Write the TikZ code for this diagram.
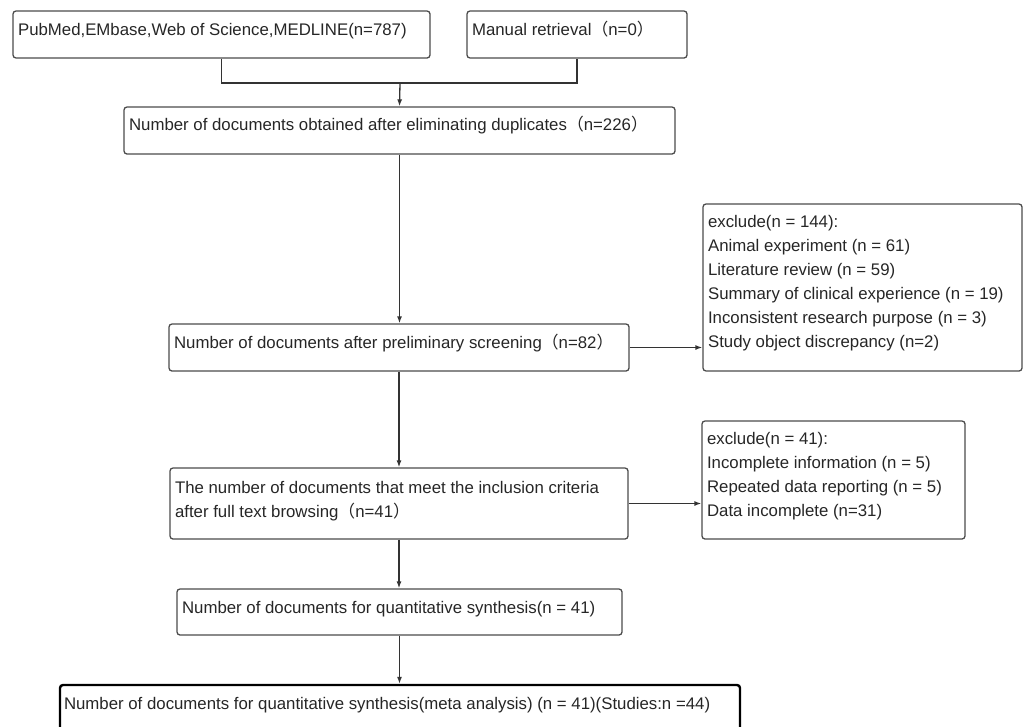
\documentclass[tikz,border=0pt]{standalone}
\usepackage{fontspec}
\setmainfont{Liberation Sans}
\newfontfamily\cjk{Noto Sans CJK SC}
\usetikzlibrary{arrows.meta}
\def\fwparen#1{{\cjk （}#1{\cjk ）}}

\begin{document}
\begin{tikzpicture}[x=1pt, y=-1pt,
	box/.style={draw=black!70, line width=1.3pt, rounded corners=3pt, inner sep=0pt},
	txt/.style={anchor=base west, inner sep=0pt, align=left, text=black!85, font=\fontsize{16.8}{24}\selectfont},
	arr/.style={draw=black!80, line width=1.3pt, -{Latex[length=7pt,width=5pt]}}]
			%%%%% START %%%%%
			
			\useasboundingbox (0, 0) rectangle (1027, 726);
			\clip (0, 0) rectangle (1027, 726);
			
			% base of a node of several lines is its last line
			\node[box, minimum width=417pt, minimum height=47pt] (search) at (221.5, 34.5) {};
			\node[txt] (searchtxt) at ([shift={(5.5, 25)}]search.north west) {PubMed,EMbase,Web of Science,MEDLINE(n=787)};
			
			\node[box, minimum width=220pt, minimum height=47pt] (manual) at (577, 34.5) {};
			\node[txt] (manualtxt) at ([shift={(5.5, 25)}]manual.north west) {Manual retrieval\fwparen{n=0}};
			
			\node[box, minimum width=551pt, minimum height=47pt] (dedup) at (399.5, 130.5) {};
			\node[txt] (deduptxt) at ([shift={(5.5, 24)}]dedup.north west) {Number of documents obtained after eliminating duplicates\fwparen{n=226}};
			
			\node[box, minimum width=319pt, minimum height=167pt] (exclone) at (862.5, 287.5) {};
			\node[txt] (exclonetxt) at ([shift={(5.5, 144)}]exclone.north west) {exclude(n = 144):\\Animal experiment (n = 61)\\Literature review (n = 59)\\Summary of clinical experience (n = 19)\\Inconsistent research purpose (n = 3)\\Study object discrepancy (n=2)};
			
			\node[box, minimum width=460pt, minimum height=47pt] (prelim) at (399, 347.5) {};
			\node[txt] (prelimtxt) at ([shift={(5.5, 25)}]prelim.north west) {Number of documents after preliminary screening\fwparen{n=82}};
			
			\node[box, minimum width=263pt, minimum height=118pt] (excltwo) at (833.5, 480) {};
			\node[txt] (excltwotxt) at ([shift={(5.5, 96)}]excltwo.north west) {exclude(n = 41):\\Incomplete information (n = 5)\\Repeated data reporting (n = 5)\\Data incomplete (n=31)};
			
			\node[box, minimum width=458pt, minimum height=71pt] (fulltext) at (399, 503.5) {};
			\node[txt] (fulltexttxt) at ([shift={(5.5, 50)}]fulltext.north west) {The number of documents that meet the inclusion criteria\\after full text browsing\fwparen{n=41}};
			
			\node[box, minimum width=445pt, minimum height=46pt] (quant) at (399.5, 612) {};
			\node[txt] (quanttxt) at ([shift={(5.5, 25)}]quant.north west) {Number of documents for quantitative synthesis(n = 41)};
			
			\node[box, draw=black, line width=2.4pt, minimum width=680pt, minimum height=60pt] (meta) at (400, 715) {};
			\node[txt] (metatxt) at ([shift={(5, 26)}]meta.north west) {Number of documents for quantitative synthesis(meta analysis) (n = 41)(Studies:n =44)};
			
			\coordinate (merge) at (400, 83);
			\draw[black!80, line width=1.3pt] (search.south) |- (merge) -| (manual.south);
			\draw[arr] (merge) -- (dedup.north);
			
			\draw[arr] (dedup.south) -- (dedup.south |- prelim.north);
			\draw[arr] (prelim.east) -- (prelim.east -| exclone.west);
			\draw[arr] (prelim.south) -- (fulltext.north);
			\draw[arr] (fulltext.east) -- (fulltext.east -| excltwo.west);
			\draw[arr] (fulltext.south) -- (fulltext.south |- quant.north);
			\draw[arr] (quant.south) -- (quant.south |- meta.north);
			
			%%%%% END %%%%%
\end{tikzpicture}
\end{document}
